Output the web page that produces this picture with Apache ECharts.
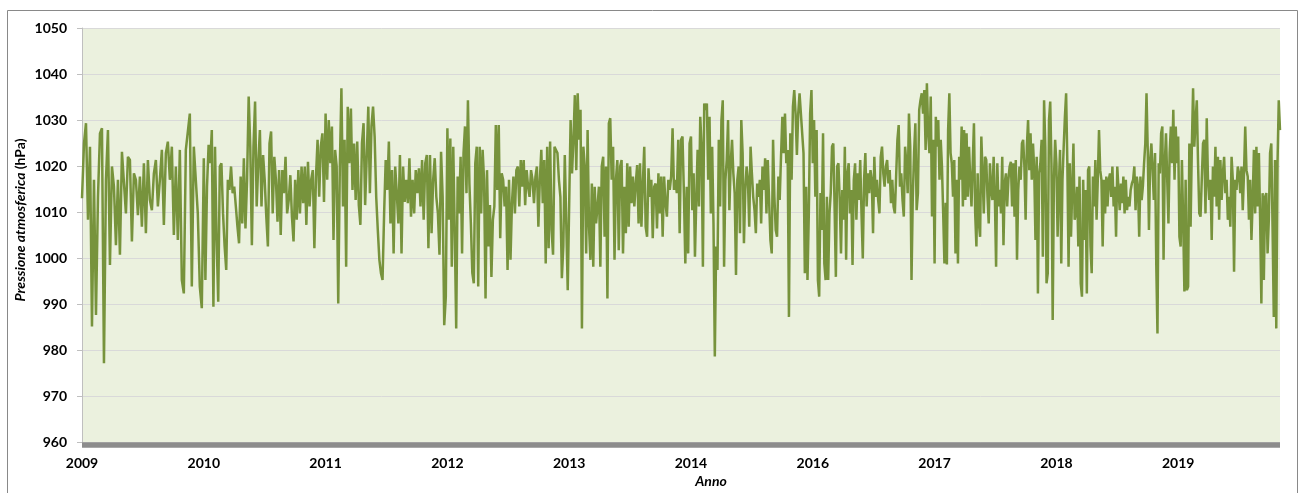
<!DOCTYPE html>
<html><head><meta charset="utf-8">
<script src="https://cdn.jsdelivr.net/npm/echarts@6/dist/echarts.min.js"></script>
<style>html,body{margin:0;padding:0;background:#fff}#c{width:1304px;height:493px}</style>
</head><body><div id="c"></div>
<script>
// Tick labels of the x axis (one every label interval of the source chart)
const yearLabels = ['2009','2010','2011','2012','2013','2014','2016','2017','2018','2019'];

// Pressure values (hPa), one array per label interval
const p2009 = [1013,1024.9,1029.3,1008.3,1024.2,985.1,1017,987.6,1013.3,1027.1,1028.2,977.1,1017,1027.8,998.5,1019.9,1015.5,1002.8,1017,1000.7,1023.1,1023.5,1009.7,1022,1021.3,1003.6,1018.4,1017,1009.3,1017.7,1006.8,1020.6,1005.4,1021.3,1012.6,1010.4,1018.4,1021.3,1011.2,1017,1023.5,1007.2,1022.8,1025.3,1017,1024.2,1005,1019.9,1003.9,1023.5,995.2,992.3,1023.5,1023.1,1031.4,993.8,1024.2,1024.6,1009.7,993.8,989.1];
const p2010 = [1021.7,995.2,1015.5,1024.6,1020.6,1027.8,989.4,1024.2,1003.9,990.5,1019.9,1020.6,1009.7,1002.5,997.4,1017,1014.8,1019.9,1014.1,1015.5,1011.2,1006.8,1003.2,1017.7,1007.5,1021.7,1006.4,1017,1035.1,1024.2,1002.8,1024.2,1034,1011.2,1020.6,1027.8,1011.2,1022.4,1017,1009,1002.5,1024.9,1027.5,1009.7,1022,1017,1007.9,1019.1,1005,1019.1,1014.1,1022,1009.7,1012.6,1018,1009,1003.6,1017,1008.3,1019.1,1009.7,1019.9,1011.9,1019.9,1007.2,1020.9,1011.2,1017,1019.1,1002.1,1017.7,1025.7,1013.3,1024.2,1027.1,1012.2];
const p2011 = [1031.4,1017,1030,1020.6,1028.6,1003.9,1023.5,1019.9,990.1,1019.9,1036.9,1011.2,1025.7,998.1,1032.9,1020.6,1032.5,1014.8,1024.9,1012.6,1025.3,1011.5,1007.2,1024.9,1029.3,1011.5,1022,1032.9,1014.1,1028.6,1032.9,1026.4,1013.3,1006.1,999.6,996.7,995.2,1009.7,1021.3,1014.8,1025.3,1007.5,1019.1,1001,1019.9,1014.1,1007.5,1022.4,1001,1019.9,1012.2,1017,1011.9,1021.7,1009,1017,1009.7,1019.1,1014.1,1019.5,1011.2,1021.3,1008.3,1020.6,1022.4,1002.1,1022.4,1005.4,1017,1021.7,1013.3,1009.7,1000.7,1023.1,1013.3,985.4,991.6];
const p2012 = [1028.2,1008.3,1026,998.1,1024.2,1006.1,984.7,1017.7,1009.7,1022,1001,1022.8,1028.6,1014.1,1034.3,1016.2,1007.5,996.7,994.5,1020.6,1024.2,993.8,1024.2,1009.7,1023.5,1017,991.2,1019.1,1002.5,1011.5,995.9,1008.3,1011.2,1028.9,1014.8,1028.9,1004.3,1018.4,1017,1011.2,1015.5,997.4,1017,999.6,1011.9,1017.7,1009.7,1019.1,1019.9,1011.2,1021.3,1015.5,1021.3,1011.5,1019.1,1015.5,1013.3,1019.1,1017,1011.9,1017.7,1019.9,1006.8,1017,1023.5,1011.9,1021.3,998.8,1024.2,1002.1,1025.3,1006.1,1000.7,1024.2,1023.5,1022.8,1017,1013.3,995.6,1002.5,1022.4,1022.8,993];
const p2013 = [1011.9,1030,1018.4,1025.7,1035.4,1019.1,1035.8,1025.7,1032.2,984.7,1024.2,1019.9,1001,1027.8,1006.8,999.6,1016.2,998.1,1015.5,1007.5,1011.2,1015.5,998.1,1019.9,1022,1004.6,1019.9,991.2,1029.3,1030.4,1017,1024.2,999.6,1017,1021.3,1001.7,1019.9,1021.3,1001,1015.5,1005.4,1020.6,1006.8,1019.9,1011.9,1017.7,1011.2,1016.2,1020.2,1007.5,1020.6,1006.8,1016.2,1024.2,1006.8,1004.6,1019.5,1013.3,1017,1004.3,1015.5,1016.2,1006.4,1018.4,1009.7,1017.7,1004.6,1017.7,1011.9,1009,1017,1014.8,1017.7,1028.2,1014.8,1017,1014.1,1025.7,1005.4,1025.7,1026.4,1014.1,998.8,1015.5,1001,1024.9];
const p2014 = [1026.4,1010.4,1018.4,1000.3,1012.6,1023.5,1011.2,1030.7,1024.2,998.1,1033.6,1032.2,1033.6,1017,1030.7,1009.7,1024.2,1007.5,978.6,1002.5,997.4,1025.7,1011.2,1030,1034.3,998.1,1017,1021.3,1030,1010.4,1020.6,1025.7,1018.4,1014.1,996.3,1017,1019.9,1005.4,1030,1022.8,1003.2,1014.8,1019.9,1017,1006.8,1024.2,1018.4,1013.3,1010.4,1005.4,1016.2,1013.3,1017,1007.5,1019.9,1014.8,1021.7,1009.7,1021.3,1012.6,1003.9,1001,1025.7,1013.3,1006.1,1004.6,1017.7,1012.6,1022,1030.7,1022.8,1031.4,1020.6,1023.5,987.2,1027.1,1017,1032.9,1036.5,1031.4,1022.4,1031.4,1035.8,1035.8,1027.1,1022.8,996.7,1015.5,995.2,1009.7,1031.4,1036.5];
const p2016 = [1020.6,1030,1013.3,1027.8,995.2,991.6,1014.1,1006.1,1027.1,998.8,995.2,1013.3,995.2,1009.7,1014.1,1024.2,1024.9,1011.2,995.9,1019.9,1020.6,1012.6,1001,1014.8,1008.3,1024.2,999.6,1018.4,1020.6,1009.7,1014.8,998.5,1017,1020.6,1008.3,1018.4,1012.6,1021.3,1009.7,999.9,1017,1022.8,1011.2,1018.4,1014.1,1019.1,1017,1005.4,1022,1013.3,1017,1012.6,1009.7,1022,1024.2,1018.4,1015.5,1019.9,1021.3,1016.2,1019.1,1011.9,1017,1011.2,1009.7,1017.7,1025.7,1028.9,1015.5,1018.4,1012.6,1009,1024.2,1020.6,1014.1,1031.4,1024.2,995.2,1013.3,1022.8,1029.3,1010.4,1014.1,1032.2,1034.3,1035.8,1031.4,1036.5,1023.5,1038,1027.1,1022.8,1035.1,1009,1025.7];
const p2017 = [998.8,1030.7,1024.2,1030,1017,1025.7,1019.9,1009.7,998.8,1012,998.6,1027.8,1035.8,1022.8,1020.6,1013.3,1021.3,1001,1017,998.8,1022,1017,1028.6,1011.2,1027.8,1012.6,1027.1,1013.3,1024.2,1017,1011.2,1020.6,1029.3,1009.7,1002.5,1018.4,1007.5,1004.6,1026.4,1018.4,1009.7,1022,1021.3,1013.3,1007.5,1020.6,1014.8,1012.6,1022,1013.3,998.1,1020.6,1011.2,1014.8,1009.7,1022,1002.8,1016.2,1018.4,1011.2,1017,1019.9,1020.9,1011.2,1020.6,1009,1021.3,999.6,1014.8,1019.9,1017,1024.9,1025.7,1019.9,1008.3,1024.2,1030,1019.1,1027.1,1017,1024.9,1019.1,1003.9,1022,992.3,1018.4,1020.6,1025.7,1000.3,1034.3,1024.2,994.5,996.7,1030,1034,1020.6,986.5,1017,1025.7];
const p2018 = [1020.6,1004.6,1015.5,1023.5,998.8,1017,1024.2,1030.7,1035.8,1020.6,998.1,1020.6,1004.6,1014.8,1024.9,1008.3,1009.7,1015.5,1002.5,1017.7,994.5,991.6,1017,1003.9,1014.8,992.3,1019.1,1019.9,1002.5,996.7,1017.7,1011.2,1021.3,1008.3,1017,1027.8,1019.1,1017,1002.5,1017,1009.7,1017.7,1011.2,1017,1018.4,1013.3,1019.9,1011.2,1015.5,1004.6,1019.9,1014.8,1010.4,1016.2,1011.9,1017.7,1009.7,1017,1010.4,1013.3,1011.2,1014.8,1016.2,1017,1019.9,1010.4,1017.7,1015.5,1004.6,1017.7,1012.6,1015.5,1020.6,1024.9,1035.8,1023.5,1006.1,1021.3,1024.9,1019.1,1012.6,1022.8,998.8,983.6,1020.6,1018.4,1027.1,1028.6,999.6,1020.6,1027.1,1017,1007.5,1022.8,1028.6,1020.6,1032.2,1017,1028.6,1020.6];
const p2019 = [1026.4,1004.6,1002.5,1021.3,1008.3,992.7,1017,993,993.8,1024.9,1006.8,1024.2,1036.9,1024.2,1030,1034.3,1020.6,1009.7,1009,1017,1024.9,1025.7,1009.7,1030.4,1017,1012.6,1017,1003.9,1019.9,1013.3,1024.2,1011.2,1022,1008.3,1021.3,1012.6,1018.4,1022,1014.1,1017,1008.3,1013.3,1006.8,1022,1017,997,1017,1014.8,1019.9,1018.4,1014.1,1019.9,1010.4,1018.4,1028.6,1019.1,1017.7,1008.3,1017,1003.9,1012.6,1023.5,1009.7,1024.2,1011.2,1022.8,1008.3,990.1,1014.1,995.2,1013.3,1014.1,1001,1008.3,1022.8,1024.9,1006.8,987.2,1021.3,984.7,1020.6,1034.3,1027.8];

// The last interval is only partly covered by data (fraction of a label interval)
const LAST_SPAN = 0.836;

const segments = [p2009,p2010,p2011,p2012,p2013,p2014,p2016,p2017,p2018,p2019];
const seriesData = [];
segments.forEach((seg, j) => {
  const last = j === segments.length - 1;
  seg.forEach((v, i) => {
    const x = last ? j + LAST_SPAN * i / (seg.length - 1) : j + i / seg.length;
    seriesData.push([x, v]);
  });
});

const FONT = 'Lato, "Open Sans", "DejaVu Sans", sans-serif';
const chart = echarts.init(document.getElementById('c'), null, {renderer: 'canvas'});
chart.setOption({
  animation: false,
  backgroundColor: '#ffffff',
  grid: {left: 82, right: 24, top: 28, bottom: 51, show: true, backgroundColor: '#EBF1DE', borderWidth: 0, containLabel: false},
  xAxis: {
    type: 'value', min: 0, max: 9 + LAST_SPAN, interval: 1, offset: 3,
    axisLine: {show: true, onZero: false, lineStyle: {color: '#8C8C8C', width: 5.5, cap: 'butt'}},
    axisTick: {show: false},
    splitLine: {show: false},
    axisLabel: {
      showMaxLabel: false, margin: 11, color: '#000', fontFamily: FONT, fontWeight: 'bold', fontSize: 14,
      formatter: function (v) { return Math.abs(v - Math.round(v)) < 1e-6 && yearLabels[Math.round(v)] ? yearLabels[Math.round(v)] : ''; }
    }
  },
  yAxis: {
    type: 'value', min: 960, max: 1050, interval: 10,
    axisLine: {show: true, lineStyle: {color: '#BFBFBF', width: 1}},
    axisTick: {show: true, length: 5, lineStyle: {color: '#BFBFBF'}},
    axisLabel: {margin: 15, color: '#000', fontFamily: FONT, fontWeight: 'bold', fontSize: 14,
      formatter: function (v) { return String(v); }},
    splitLine: {show: true, lineStyle: {color: '#D9D9D9', width: 1}}
  },
  series: [{
    type: 'line', data: seriesData, showSymbol: false, symbol: 'none',
    lineStyle: {color: '#77933C', width: 2.5}, itemStyle: {color: '#77933C'}, z: 3
  }],
  graphic: [
    {type: 'rect', silent: true, shape: {x: 7.5, y: 10.5, width: 1290, height: 490},
     style: {fill: 'none', stroke: '#898989', lineWidth: 1}},
    {type: 'text', silent: true, x: 20, y: 220, rotation: Math.PI / 2,
     style: {text: '{a|Pressione atmosferica} {b|(hPa)}', align: 'center', verticalAlign: 'middle', fill: '#000',
       rich: {a: {fontStyle: 'italic', fontWeight: 'bold', fontSize: 14, fontFamily: FONT, fill: '#000'},
              b: {fontWeight: 'bold', fontSize: 14, fontFamily: FONT, fill: '#000'}}}},
    {type: 'text', silent: true, x: 711, y: 481,
     style: {text: 'Anno', align: 'center', verticalAlign: 'middle', fill: '#000',
       fontStyle: 'italic', fontWeight: 'bold', fontSize: 14, fontFamily: FONT}}
  ]
});
</script>
</body></html>
